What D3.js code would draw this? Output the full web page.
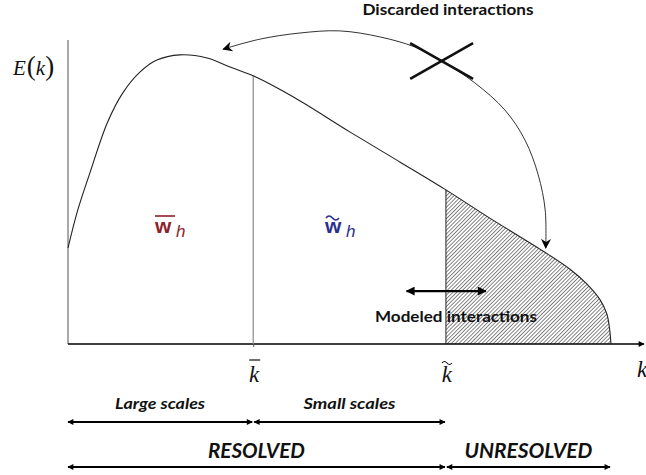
<!DOCTYPE html>
<html>
<head>
<meta charset="utf-8">
<script src="https://cdn.jsdelivr.net/npm/d3@7"></script>
<style>
body { margin: 0; background: #fff; }
svg { display: block; }
</style>
</head>
<body>
<svg></svg>
<script>
// energy spectrum E(k) (both axes in 0..100 units)
const kVals = [0, 1.7, 3.8, 6.8, 9.5, 12.5, 15.4, 19.4, 24.1, 28.1, 32.1, 39.0, 48.9, 57.5, 65.5, 73.1, 82.3, 87.0, 89.9, 92.2, 93.4, 93.9, 94.1];
const eVals = [31.6, 44.1, 56.3, 72.7, 82.6, 89.5, 93.4, 95.1, 94.1, 91.1, 88.2, 81.3, 69.7, 59.9, 50.7, 41.4, 30.6, 24.6, 19.8, 14.6, 9.8, 4.4, 0];

// cut-off wavenumbers
const kBar = 32.1;
const kTilde = 65.5;
const kEnd = 94.1;

// "discarded interactions" arc
const arcK = [26.9, 33.3, 40.2, 47.1, 54.1, 60.1, 64.8, 70.5, 75.7, 79.2, 81.5, 82.7, 82.8];
const arcE = [97.0, 100.3, 102.3, 103.0, 101.0, 97.7, 93.1, 85.9, 77.0, 67.1, 55.6, 44.1, 31.6];
const crossK = [59.3, 70.2];
const crossE = [87.2, 99.0];

// modeled interactions arrow
const modK = [58.5, 72.6];
const modE = 17.4;

// scale ranges under the axis
const scaleLabels = ['Large scales', 'Small scales'];
const scaleEdges = [0, kBar, kTilde];
const resLabels = ['RESOLVED', 'UNRESOLVED'];
const resEdges = [0, kTilde, kEnd];

const W = 646, H = 475;
const svg = d3.select('svg').attr('width', W).attr('height', H);

const x = d3.scaleLinear().domain([0, 100]).range([68, 645]);
const y = d3.scaleLinear().domain([0, 100]).range([344, 40]);

const defs = svg.append('defs');

// hatch for the unresolved part
const step = 2.7;
const pat = defs.append('pattern')
  .attr('id', 'hatch')
  .attr('patternUnits', 'userSpaceOnUse')
  .attr('width', step).attr('height', step)
  .attr('patternTransform', 'rotate(45)');
pat.append('rect').attr('width', step).attr('height', step).attr('fill', '#fff');
pat.append('line')
  .attr('x1', 0).attr('y1', 0).attr('x2', 0).attr('y2', step)
  .attr('stroke', '#222').attr('stroke-width', 1.1);

function marker(id, len, wid, path) {
  defs.append('marker')
    .attr('id', id)
    .attr('viewBox', '0 0 10 10')
    .attr('refX', 9).attr('refY', 5)
    .attr('markerUnits', 'userSpaceOnUse')
    .attr('markerWidth', len).attr('markerHeight', wid)
    .attr('orient', 'auto-start-reverse')
    .append('path').attr('d', path).attr('fill', '#000');
}
marker('small', 7, 6, 'M0,0L10,5L0,10Z');
marker('big', 10, 9, 'M0,0L10,5L0,10Z');
marker('barb', 12, 10, 'M0,0L10,5L0,10L3,5Z');

const pts = kVals.map((k, i) => ({ k: k, e: eVals[i] }));

// hatched area
const area = d3.area()
  .x(d => x(d.k)).y0(y(0)).y1(d => y(d.e))
  .curve(d3.curveCatmullRom.alpha(0.5));
svg.append('path')
  .datum(pts.filter(d => d.k >= kTilde))
  .attr('d', area)
  .attr('fill', 'url(#hatch)');

// axes
svg.append('g')
  .attr('transform', `translate(${x(0)},0)`)
  .call(d3.axisLeft(y).tickValues([]).tickSizeOuter(0))
  .call(g => g.select('.domain').attr('stroke', '#7a7a7a').attr('stroke-width', 1.3)
    .attr('d', `M0,${y(100)}V${y(0)}`));

const xAxis = svg.append('g')
  .attr('transform', `translate(0,${y(0)})`)
  .call(d3.axisBottom(x).tickValues([kBar]).tickSize(3).tickFormat('').tickSizeOuter(0));
xAxis.select('.domain').attr('stroke', '#000').attr('stroke-width', 1.4)
  .attr('d', `M${x(0)},0H${x(100) - 1}`).attr('marker-end', 'url(#small)');
xAxis.selectAll('.tick line').attr('stroke', '#555');

// cut-off lines
const eAt = k => pts.find(d => d.k === k).e;
svg.append('line')
  .attr('x1', x(kBar)).attr('x2', x(kBar))
  .attr('y1', y(eAt(kBar))).attr('y2', y(0))
  .attr('stroke', '#8a8a8a').attr('stroke-width', 1.2);
svg.append('line')
  .attr('x1', x(kTilde)).attr('x2', x(kTilde))
  .attr('y1', y(eAt(kTilde))).attr('y2', y(0))
  .attr('stroke', '#222').attr('stroke-width', 1);

// spectrum curve
const line = d3.line()
  .x(d => x(d.k)).y(d => y(d.e))
  .curve(d3.curveCatmullRom.alpha(0.5));
svg.append('path')
  .datum(pts)
  .attr('d', line)
  .attr('fill', 'none')
  .attr('stroke', '#222')
  .attr('stroke-width', 1.1);

// discarded interactions arc
svg.append('path')
  .datum(arcK.map((k, i) => ({ k: k, e: arcE[i] })))
  .attr('d', line)
  .attr('fill', 'none')
  .attr('stroke', '#333')
  .attr('stroke-width', 1)
  .attr('marker-start', 'url(#barb)')
  .attr('marker-end', 'url(#barb)');

svg.append('line')
  .attr('x1', x(crossK[0])).attr('y1', y(crossE[1]))
  .attr('x2', x(crossK[1])).attr('y2', y(crossE[0]))
  .attr('stroke', '#111').attr('stroke-width', 2.6);
svg.append('line')
  .attr('x1', x(crossK[0])).attr('y1', y(crossE[0]))
  .attr('x2', x(crossK[1])).attr('y2', y(crossE[1]))
  .attr('stroke', '#111').attr('stroke-width', 2.6);

svg.append('text')
  .attr('x', 448).attr('y', 15)
  .attr('text-anchor', 'middle')
  .attr('font-family', 'Lato, "Open Sans", sans-serif')
  .attr('font-weight', 'bold').attr('font-size', 16)
  .attr('textLength', 171).attr('lengthAdjust', 'spacingAndGlyphs')
  .attr('fill', '#111')
  .text('Discarded interactions');

// modeled interactions
svg.append('line')
  .attr('x1', x(modK[0]) + 1).attr('x2', x(modK[1]) - 1)
  .attr('y1', y(modE)).attr('y2', y(modE))
  .attr('stroke', '#000').attr('stroke-width', 2.4)
  .attr('marker-start', 'url(#big)').attr('marker-end', 'url(#big)');
svg.append('text')
  .attr('x', 456).attr('y', 322)
  .attr('text-anchor', 'middle')
  .attr('font-family', 'Lato, "Open Sans", sans-serif')
  .attr('font-weight', 'bold').attr('font-size', 16)
  .attr('textLength', 162).attr('lengthAdjust', 'spacingAndGlyphs')
  .attr('fill', '#111')
  .text('Modeled interactions');

// E(k) label
const ek = svg.append('text')
  .attr('x', 13).attr('y', 75)
  .attr('font-family', '"Liberation Serif", "DejaVu Serif", serif')
  .attr('fill', '#111');
ek.append('tspan').attr('font-style', 'italic').attr('font-size', 21).text('E');
ek.append('tspan').attr('font-size', 27).attr('dx', 1).text('(');
ek.append('tspan').attr('font-style', 'italic').attr('font-size', 21).text('k');
ek.append('tspan').attr('font-size', 27).text(')');

// k labels on the axis
function kLabel(px, py, accent) {
  svg.append('text')
    .attr('x', px).attr('y', py)
    .attr('text-anchor', 'middle')
    .attr('font-family', '"Liberation Serif", "DejaVu Serif", serif')
    .attr('font-style', 'italic').attr('font-size', 23)
    .attr('fill', '#111')
    .text('k');
  if (accent === 'bar') {
    svg.append('line')
      .attr('x1', px - 5).attr('x2', px + 6)
      .attr('y1', py - 22).attr('y2', py - 22)
      .attr('stroke', '#111').attr('stroke-width', 1.2);
  } else if (accent === 'tilde') {
    svg.append('path')
      .attr('d', `M${px - 5},${py - 19}q2.5,-3 5,0t5,0`)
      .attr('fill', 'none').attr('stroke', '#111').attr('stroke-width', 1.1);
  }
}
kLabel(x(kBar) + 1, 382, 'bar');
kLabel(x(kTilde) + 1, 382, 'tilde');
kLabel(642, 377, null);

// filtered velocity labels
function wLabel(px, py, color, accent) {
  svg.append('text')
    .attr('x', px).attr('y', py)
    .attr('font-family', '"Liberation Sans", Arial, sans-serif')
    .attr('font-weight', 'bold').attr('font-size', 21)
    .attr('fill', color)
    .text('w');
  svg.append('text')
    .attr('x', px + 21).attr('y', py + 4)
    .attr('font-family', '"Liberation Sans", Arial, sans-serif')
    .attr('font-style', 'italic').attr('font-size', 17)
    .attr('fill', color)
    .text('h');
  if (accent === 'bar') {
    svg.append('line')
      .attr('x1', px).attr('x2', px + 20)
      .attr('y1', py - 17).attr('y2', py - 17)
      .attr('stroke', color).attr('stroke-width', 1.6);
  } else {
    svg.append('path')
      .attr('d', `M${px + 1},${py - 15}q3,-4 6.5,0t6.5,0`)
      .attr('fill', 'none').attr('stroke', color).attr('stroke-width', 1.6);
  }
}
wLabel(155, 233, '#8e1f2c', 'bar');
wLabel(325, 233, '#2c2f8f', 'tilde');

// bottom range arrows
function spans(edges, labels, ay, ty, fs, weight, lengths) {
  labels.forEach((lab, i) => {
    const a = x(edges[i]) + (i > 0 ? 1 : 0);
    const b = x(edges[i + 1]) - 1;
    svg.append('line')
      .attr('x1', a).attr('x2', b)
      .attr('y1', ay).attr('y2', ay)
      .attr('stroke', '#000').attr('stroke-width', 2)
      .attr('marker-start', 'url(#small)').attr('marker-end', 'url(#small)');
    svg.append('text')
      .attr('x', (a + b) / 2).attr('y', ty)
      .attr('text-anchor', 'middle')
      .attr('font-family', 'Lato, "Open Sans", sans-serif')
      .attr('font-style', 'italic').attr('font-weight', weight)
      .attr('font-size', fs)
      .attr('textLength', lengths[i]).attr('lengthAdjust', 'spacingAndGlyphs')
      .attr('fill', '#111')
      .text(lab);
  });
}
spans(scaleEdges, scaleLabels, 422, 409, 16, 'bold', [90, 92]);
spans(resEdges, resLabels, 467, 458, 20, 'bold', [97, 128]);
</script>
</body>
</html>
